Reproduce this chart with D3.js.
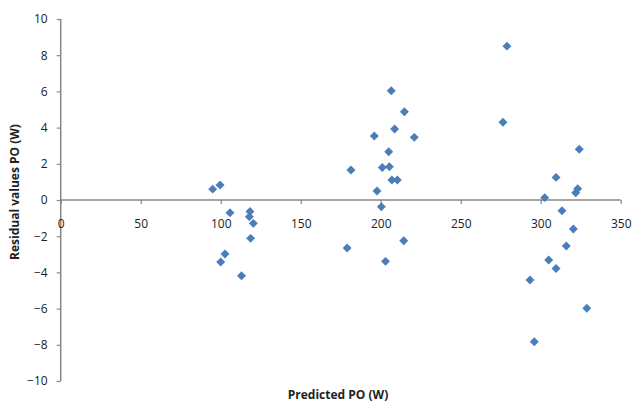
<!DOCTYPE html>
<html>
<head>
<meta charset="utf-8">
<script src="https://cdn.jsdelivr.net/npm/d3@7"></script>
<style>
  html, body { margin: 0; padding: 0; background: #fff; }
  svg { display: block; }
  text { font-family: "Open Sans", "Liberation Sans", sans-serif; }
</style>
</head>
<body>
<svg id="chart" width="633" height="402"></svg>
<script>
// Predicted PO (W)
const predicted = [
  95, 99.6, 105.8, 118.3, 117.9, 120.4, 118.7, 102.7, 100, 113,
  181.4, 179, 196, 206.6, 214.8, 208.7, 221, 205, 201, 205.4,
  207, 210.4, 197.7, 200.4, 214.4, 203,
  278.9, 276.4,
  324.1, 309.6, 323.1, 321.9, 302.5, 313.3, 320.4, 316, 305, 309.6, 293.3, 328.8, 296
];
// Residual values PO (W)
const residual = [
  0.6, 0.83, -0.7, -0.64, -0.92, -1.29, -2.12, -2.98, -3.43, -4.18,
  1.66, -2.65, 3.54, 6.04, 4.88, 3.92, 3.46, 2.67, 1.8, 1.84,
  1.1, 1.1, 0.5, -0.37, -2.25, -3.39,
  8.5, 4.3,
  2.8, 1.25, 0.62, 0.4, 0.13, -0.59, -1.6, -2.54, -3.31, -3.78, -4.42, -5.98, -7.83
];
const xTicks = [0, 50, 100, 150, 200, 250, 300, 350];
const yTicks = [-10, -8, -6, -4, -2, 0, 2, 4, 6, 8, 10];

const svg = d3.select("#chart");
const x = d3.scaleLinear().domain([0, 350]).range([60.7, 620.7]);
const y = d3.scaleLinear().domain([-10, 10]).range([381, 19]);
const axisColor = "#868686";
const labelColor = "#222";

// Y axis
const yAxis = svg.append("g")
  .attr("transform", `translate(${x(0)},0)`)
  .call(d3.axisLeft(y).tickValues(yTicks).tickSize(4).tickPadding(9).tickFormat(d3.format("d")));
yAxis.select(".domain").attr("stroke", axisColor).attr("stroke-width", 1.5).attr("d", `M0,${y(10)}V${y(-10)}`);
yAxis.selectAll(".tick line").attr("stroke", axisColor).attr("stroke-width", 1.2);
yAxis.selectAll(".tick text").attr("fill", labelColor).style("font-size", "12px").style("font-weight", "500");

// X axis at y = 0
const xAxis = svg.append("g")
  .attr("transform", `translate(0,${y(0)})`)
  .call(d3.axisBottom(x).tickValues(xTicks).tickSize(4).tickPadding(15));
xAxis.select(".domain").attr("stroke", axisColor).attr("stroke-width", 1.5).attr("d", `M${x(0)},0H${x(350)}`);
xAxis.selectAll(".tick line").attr("stroke", axisColor).attr("stroke-width", 1.2);
xAxis.selectAll(".tick text").attr("fill", labelColor).style("font-size", "12px").style("font-weight", "500");

// Points
const pts = predicted.map((p, i) => ({ p, r: residual[i] }));
svg.append("g").selectAll("path")
  .data(pts)
  .join("path")
  .attr("d", d3.symbol().type(d3.symbolSquare).size(40))
  .attr("transform", d => `translate(${x(d.p)},${y(d.r)}) rotate(45)`)
  .attr("fill", "#4a7ebb");

// Axis titles
svg.append("text")
  .attr("x", 338).attr("y", 399)
  .attr("text-anchor", "middle")
  .attr("fill", labelColor)
  .style("font-size", "12px").style("font-weight", "700")
  .text("Predicted PO (W)");

svg.append("text")
  .attr("transform", `translate(19,192) rotate(-90)`)
  .attr("text-anchor", "middle")
  .attr("fill", labelColor)
  .style("font-size", "12px").style("font-weight", "700")
  .text("Residual values PO (W)");
</script>
</body>
</html>
